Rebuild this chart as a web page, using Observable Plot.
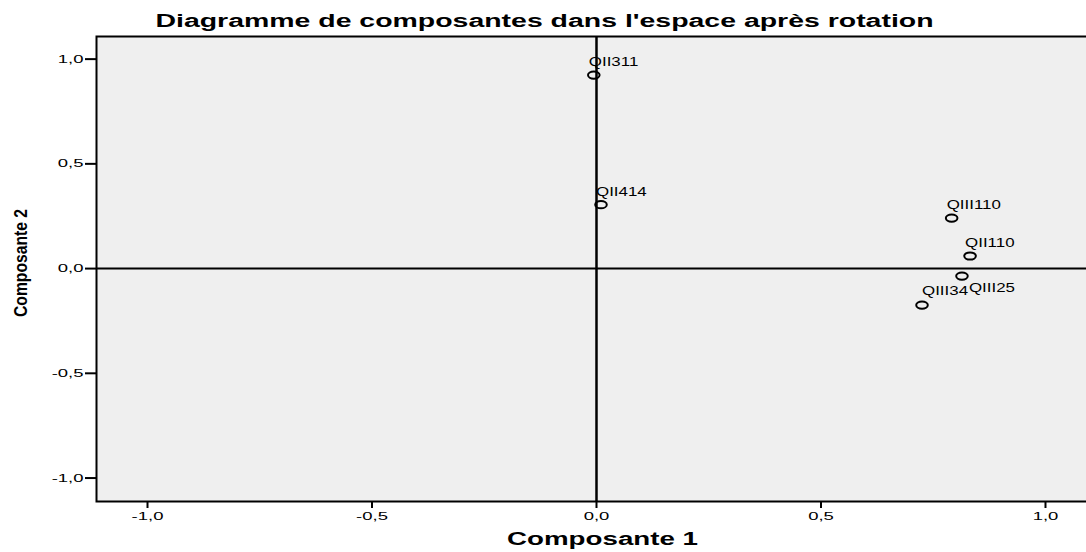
<!DOCTYPE html>
<html><head><meta charset="utf-8">
<script src="https://cdn.jsdelivr.net/npm/d3@7"></script>
<script src="https://cdn.jsdelivr.net/npm/@observablehq/plot@0.6"></script>
<style>
html,body{margin:0;padding:0;background:#fff;}
</style>
</head><body>
<div id="chart"></div>
<script>
// ---- data ----
const items = ["QII311", "QII414", "QIII110", "QII110", "QIII25", "QIII34"];
const comp1 = [-0.006, 0.010, 0.791, 0.832, 0.814, 0.725];
const comp2 = [0.924, 0.305, 0.241, 0.060, -0.036, -0.174];
const xTicks = [-1, -0.5, 0, 0.5, 1];
const yTicks = [-1, -0.5, 0, 0.5, 1];
const chartTitle = "Diagramme de composantes dans l'espace après rotation";
const xLabel = "Composante 1";
const yLabel = "Composante 2";

const data = items.map((name, i) => ({name, c1: comp1[i], c2: comp2[i]}));
const fmt = d => d.toFixed(1).replace(".", ",");

// small ellipse marker (the original is stretched horizontally)
const ellipse = {
  draw(ctx) {
    const rx = 5.8, ry = 3.6, k = 0.5523;
    ctx.moveTo(rx, 0);
    ctx.bezierCurveTo(rx, ry * k, rx * k, ry, 0, ry);
    ctx.bezierCurveTo(-rx * k, ry, -rx, ry * k, -rx, 0);
    ctx.bezierCurveTo(-rx, -ry * k, -rx * k, -ry, 0, -ry);
    ctx.bezierCurveTo(rx * k, -ry, rx, -ry * k, rx, 0);
    ctx.closePath();
  }
};

const font = "'Liberation Sans', Arial, Helvetica, sans-serif";

const svg = Plot.plot({
  width: 1086,
  height: 552,
  marginLeft: 96,
  marginRight: -2,
  marginTop: 36,
  marginBottom: 51,
  style: {fontFamily: font, fontSize: "11px", color: "black", background: "white", overflow: "visible"},
  x: {domain: [-1.1136, 1.0958]},
  y: {domain: [-1.112, 1.108]},
  marks: [
    Plot.frame({fill: "#efefef", stroke: "black", strokeWidth: 2}),
    Plot.ruleX([0], {stroke: "black", strokeWidth: 2.5}),
    Plot.ruleY([0], {stroke: "black", strokeWidth: 2}),
    Plot.axisX({ticks: xTicks, tickFormat: fmt, tickSize: 7, tickPadding: 4, strokeWidth: 2, fontSize: 11, label: null}),
    Plot.axisY({ticks: yTicks, tickFormat: fmt, tickSize: 11, tickPadding: 2, strokeWidth: 2, fontSize: 11, label: null}),
    Plot.dot(data, {x: "c1", y: "c2", symbol: ellipse, r: 4, stroke: "black", strokeWidth: 2, fill: "none"}),
    Plot.text(data.filter(d => d.name !== "QIII25" && d.name !== "QIII34"), {x: "c1", y: "c2", text: "name", textAnchor: "start", lineAnchor: "middle", dx: -5, dy: -13, fontSize: 13, fill: "black"}),
    Plot.text(data.filter(d => d.name === "QIII34"), {x: "c1", y: "c2", text: "name", textAnchor: "start", lineAnchor: "middle", dx: 0, dy: -14, fontSize: 13, fill: "black"}),
    Plot.text(data.filter(d => d.name === "QIII25"), {x: "c1", y: "c2", text: "name", textAnchor: "start", lineAnchor: "middle", dx: 7, dy: 12, fontSize: 13, fill: "black"}),
    Plot.text([chartTitle], {frameAnchor: "top", textAnchor: "middle", lineAnchor: "middle", text: d => d, dx: -48, dy: -15, fontSize: 18, fontWeight: "bold", fill: "black"}),
    Plot.text([xLabel], {frameAnchor: "bottom", textAnchor: "middle", lineAnchor: "middle", text: d => d, dx: 10, dy: 38, fontSize: 18, fontWeight: "bold", fill: "black"}),
    Plot.text([yLabel], {frameAnchor: "left", textAnchor: "middle", lineAnchor: "middle", text: d => d, rotate: -90, dx: -76, dy: -6, fontSize: 19, fontWeight: "bold", fill: "black"})
  ]
});

document.getElementById("chart").appendChild(svg);

// the reference is horizontally stretched: widen the text runs to match
const tickSet = new Set([...xTicks, ...yTicks].map(fmt));
const itemSet = new Set(items);
svg.querySelectorAll("text").forEach(t => {
  const s = t.textContent;
  const w = t.getComputedTextLength();
  let L = null;
  if (s === chartTitle) L = w * 1.58;
  else if (s === xLabel) L = w * 1.54;
  else if (s === yLabel) L = 108;
  else if (itemSet.has(s)) L = w * 1.3;
  else if (tickSet.has(s)) L = w * 1.68;
  if (L != null) {
    t.setAttribute("textLength", L);
    t.setAttribute("lengthAdjust", "spacingAndGlyphs");
  }
});
</script>
</body></html>
